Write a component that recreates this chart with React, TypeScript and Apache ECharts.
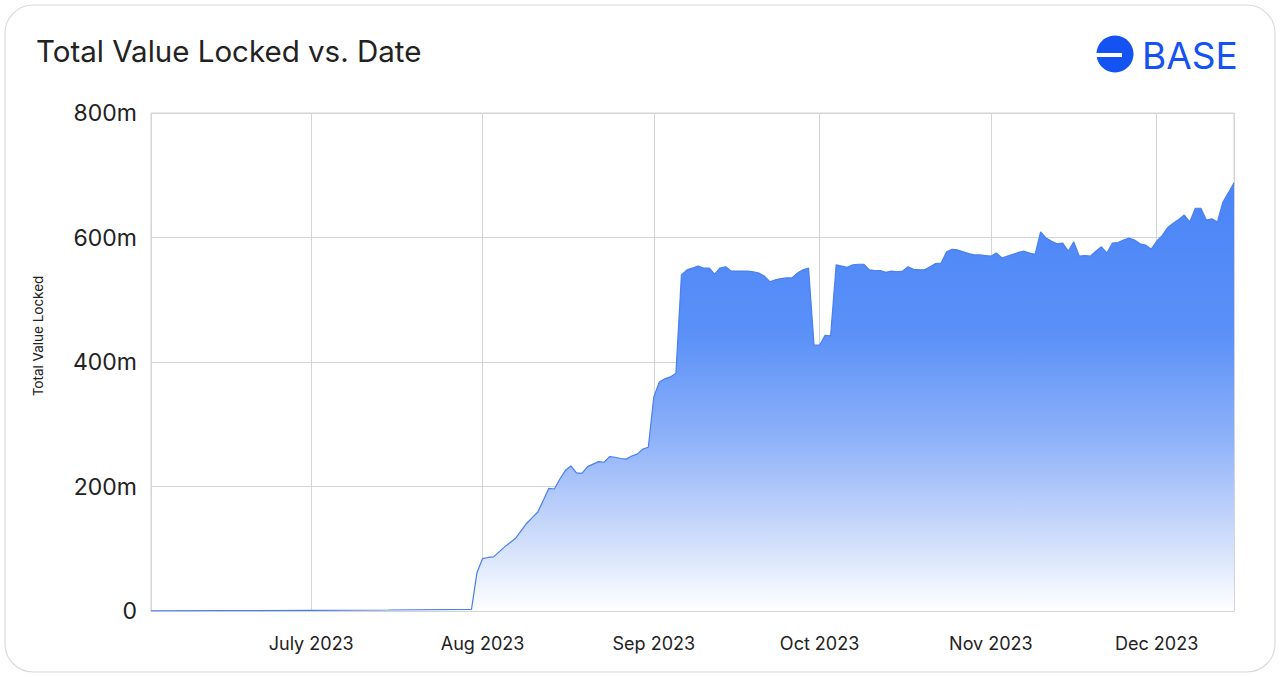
import React, { useEffect, useRef } from "react";
import * as echarts from "echarts";

const titleText = "Total Value Locked vs. Date";
const yAxisTitle = "Total Value Locked";
const brandText = "BASE";
const monthNames = ["Jan", "Feb", "Mar", "Apr", "May", "June", "July", "Aug", "Sep", "Oct", "Nov", "Dec"];
const yTicks = [0, 200, 400, 600, 800];

const dates = [
  "2023-06-02", "2023-06-15", "2023-07-01", "2023-07-15", "2023-07-30", "2023-07-31",
  "2023-08-01", "2023-08-02", "2023-08-03", "2023-08-04", "2023-08-05", "2023-08-06", "2023-08-07",
  "2023-08-08", "2023-08-09", "2023-08-10", "2023-08-11", "2023-08-12", "2023-08-13", "2023-08-14",
  "2023-08-15", "2023-08-16", "2023-08-17", "2023-08-18", "2023-08-19", "2023-08-20", "2023-08-21",
  "2023-08-22", "2023-08-23", "2023-08-24", "2023-08-25", "2023-08-26", "2023-08-27", "2023-08-28",
  "2023-08-29", "2023-08-30", "2023-08-31",
  "2023-09-01", "2023-09-02", "2023-09-03", "2023-09-04", "2023-09-05", "2023-09-06", "2023-09-07",
  "2023-09-08", "2023-09-09", "2023-09-10", "2023-09-11", "2023-09-12", "2023-09-13", "2023-09-14",
  "2023-09-15", "2023-09-16", "2023-09-17", "2023-09-18", "2023-09-19", "2023-09-20", "2023-09-21",
  "2023-09-22", "2023-09-23", "2023-09-24", "2023-09-25", "2023-09-26", "2023-09-27", "2023-09-28",
  "2023-09-29", "2023-09-30",
  "2023-10-01", "2023-10-02", "2023-10-03", "2023-10-04", "2023-10-05", "2023-10-06", "2023-10-07",
  "2023-10-08", "2023-10-09", "2023-10-10", "2023-10-11", "2023-10-12", "2023-10-13", "2023-10-14",
  "2023-10-15", "2023-10-16", "2023-10-17", "2023-10-18", "2023-10-19", "2023-10-20", "2023-10-21",
  "2023-10-22", "2023-10-23", "2023-10-24", "2023-10-25", "2023-10-26", "2023-10-27", "2023-10-28",
  "2023-10-29", "2023-10-30", "2023-10-31",
  "2023-11-01", "2023-11-02", "2023-11-03", "2023-11-04", "2023-11-05", "2023-11-06", "2023-11-07",
  "2023-11-08", "2023-11-09", "2023-11-10", "2023-11-11", "2023-11-12", "2023-11-13", "2023-11-14",
  "2023-11-15", "2023-11-16", "2023-11-17", "2023-11-18", "2023-11-19", "2023-11-20", "2023-11-21",
  "2023-11-22", "2023-11-23", "2023-11-24", "2023-11-25", "2023-11-26", "2023-11-27", "2023-11-28",
  "2023-11-29", "2023-11-30",
  "2023-12-01", "2023-12-02", "2023-12-03", "2023-12-04", "2023-12-05", "2023-12-06", "2023-12-07",
  "2023-12-08", "2023-12-09", "2023-12-10", "2023-12-11", "2023-12-12", "2023-12-13", "2023-12-14",
  "2023-12-15",
];

// Total value locked, in millions
const tvlValues = [
  0.2, 0.5, 1.0, 1.6, 2.5, 62,
  84, 86, 87, 95, 103, 110, 117,
  129, 141, 150, 159, 178, 197, 196,
  212, 226, 233, 222, 221, 232, 236,
  240, 239, 248, 247, 245, 244, 249,
  252, 260, 263,
  344, 368, 373, 376, 382, 540, 548,
  551, 554, 551, 551, 541, 551, 553,
  546, 546, 546, 546, 545, 543, 538,
  529, 532, 534, 535, 535, 543, 548,
  551, 427,
  427, 443, 442, 556, 554, 552, 556,
  557, 557, 548, 547, 547, 544, 546,
  545, 546, 553, 549, 548, 548, 553,
  558, 559, 577, 581, 580, 577, 574,
  572, 572, 571,
  570, 575, 567, 570, 573, 576, 578,
  575, 573, 609, 599, 594, 590, 591,
  578, 593, 570, 571, 570, 578, 585,
  575, 591, 592, 596, 599, 596, 590,
  588, 581,
  594, 603, 616, 623, 629, 636, 625,
  647, 647, 628, 630, 625, 657, 672,
  688,
];

const xMin = "2023-06-02";
const xMax = "2023-12-15";

export default function App() {
  const ref = useRef<HTMLDivElement>(null);

  useEffect(() => {
    if (!ref.current) return;
    const chart = echarts.init(ref.current, undefined, { renderer: "svg" });
    const DAY = 86400000;
    const option: any = {
      animation: false,
      backgroundColor: "#ffffff",
      textStyle: { fontFamily: "Inter, 'Noto Sans', sans-serif" },
      grid: {
        left: 151,
        right: 46,
        top: 113,
        bottom: 66,
        show: true,
        borderColor: "#d4d4d4",
        borderWidth: 1,
      },
      xAxis: {
        type: "time",
        min: xMin,
        max: xMax,
        minInterval: 28 * DAY,
        maxInterval: 31 * DAY,
        axisLine: { show: true, lineStyle: { color: "#d4d4d4" } },
        axisTick: { show: false },
        splitLine: { show: true, lineStyle: { color: "#d4d4d4", width: 1 } },
        axisLabel: {
          color: "#222222",
          fontSize: 18,
          margin: 23,
          hideOverlap: false,
          formatter: (val: number) => {
            const d = new Date(val);
            if (d.getDate() !== 1) return "";
            return monthNames[d.getMonth()] + " " + d.getFullYear();
          },
        },
      },
      yAxis: {
        type: "value",
        min: yTicks[0],
        max: yTicks[yTicks.length - 1],
        interval: 200,
        axisLine: { show: false },
        axisTick: { show: false },
        splitLine: { show: true, lineStyle: { color: "#d4d4d4", width: 1 } },
        axisLabel: {
          color: "#222222",
          fontSize: 23,
          margin: 14,
          formatter: (v: number) => (v === 0 ? "0" : v + "m"),
        },
      },
      graphic: [
        {
          type: "rect",
          shape: { x: 5, y: 5, width: 1270, height: 667, r: 28 },
          style: { fill: "none", stroke: "#dcdcdc", lineWidth: 1.2 },
          z: -1,
        },
        {
          type: "text",
          x: 36,
          y: 51,
          style: {
            text: titleText,
            fontSize: 29.5,
            fontFamily: "Inter, 'Noto Sans', sans-serif",
            fill: "#222222",
            verticalAlign: "middle",
          },
        },
        {
          type: "text",
          x: 38,
          y: 336,
          rotation: Math.PI / 2,
          style: {
            text: yAxisTitle,
            fontSize: 13.5,
            fontFamily: "Inter, 'Noto Sans', sans-serif",
            fill: "#222222",
            align: "center",
            verticalAlign: "middle",
          },
        },
        {
          type: "circle",
          shape: { cx: 1115, cy: 54, r: 18.5 },
          style: { fill: "#1452f2" },
        },
        {
          type: "rect",
          shape: { x: 1096, y: 53, width: 26, height: 4 },
          style: { fill: "#ffffff" },
        },
        {
          type: "text",
          x: 1142,
          y: 55,
          style: {
            text: brandText,
            fontSize: 37,
            fontFamily: "Inter, 'Noto Sans', sans-serif",
            fill: "#1452f2",
            verticalAlign: "middle",
          },
        },
      ],
      series: [
        {
          type: "line",
          data: dates.map((d, i) => [d, tvlValues[i]]),
          showSymbol: false,
          symbol: "none",
          lineStyle: { color: "#4a7ff0", width: 1.2 },
          areaStyle: {
            opacity: 1,
            color: new echarts.graphic.LinearGradient(0, 0, 0, 1, [
              { offset: 0, color: "#4a84f7" },
              { offset: 0.35, color: "#5a90f8" },
              { offset: 0.6, color: "#8fb2f9" },
              { offset: 0.8, color: "#c6d7fb" },
              { offset: 1, color: "#ffffff" },
            ]),
          },
        },
      ],
    };
    chart.setOption(option);
    return () => chart.dispose();
  }, []);

  return (
    <div
      ref={ref}
      style={{ position: "fixed", left: 0, top: 0, width: 1280, height: 677 }}
    />
  );
}
